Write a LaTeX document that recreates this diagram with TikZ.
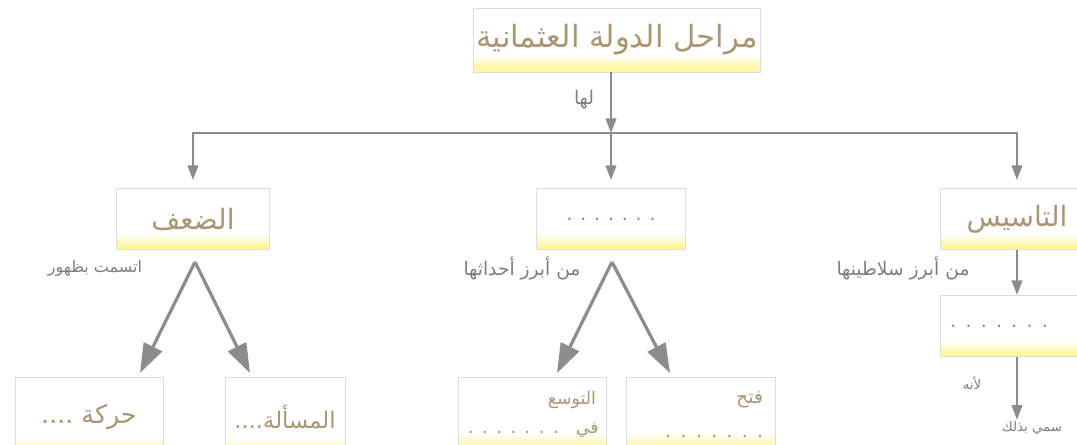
\documentclass[tikz,border=0pt]{standalone}
\usepackage{fontspec}
\newfontfamily\arabicfont[Script=Arabic]{DejaVu Sans}
\TeXXeTstate=1
\usetikzlibrary{arrows.meta}

\definecolor{txtbrown}{RGB}{170,150,115}
\definecolor{arrgray}{RGB}{140,140,140}
\definecolor{edgegray}{RGB}{220,220,220}
\definecolor{paleyellow}{RGB}{255,246,160}
\definecolor{lblgray}{RGB}{125,125,125}
\definecolor{dotolive}{RGB}{150,135,90}
\pgfdeclareverticalshading{boxfade}{100bp}{color(0bp)=(paleyellow); color(28bp)=(paleyellow); color(38bp)=(white); color(100bp)=(white)}

\begin{document}
\begin{tikzpicture}[x=0.75pt,y=-0.75pt,
    stagebox/.style={draw=edgegray, line width=0.5pt, shading=boxfade, text=txtbrown, inner sep=2pt,
      font=\arabicfont\fontsize{21}{24}\selectfont},
    dotsbox/.style={stagebox, text=dotolive, font=\arabicfont\fontsize{14}{16}\selectfont},
    lbl/.style={text=lblgray, inner sep=1pt, font=\arabicfont\fontsize{14}{16}\selectfont},
    arr/.style={draw=arrgray, line width=1.5pt, -{Triangle[length=11pt,width=8pt]}},
    fatarr/.style={draw=arrgray, line width=2.4pt, -{Triangle[length=22pt,width=15pt]}}]
  \useasboundingbox (0,0) rectangle (1077,444);

  % top box
  \node[stagebox, minimum width=212pt, minimum height=48pt, font=\arabicfont\fontsize{23}{26}\selectfont]
    (root) at (617,40) {\beginR مراحل الدولة العثمانية\endR};

  % stages
  \node[stagebox, minimum width=115pt, minimum height=46pt] (weak) at (193,219) {\beginR الضعف\endR};
  \node[dotsbox, minimum width=112pt, minimum height=46pt] (mid) at (611,219) {\beginR . . . . . . .\endR};
  \node[stagebox, minimum width=115pt, minimum height=46pt] (found) at (1017,219) {\beginR التاسيس\endR};

  % branching
  \coordinate (bar) at (611,133);
  \draw[arr] (root.south -| bar) -- (bar);
  \node[lbl] (lha) at (584,100) {\beginR لها\endR};
  \draw[arr, shorten >=6pt] (bar) -| (weak);
  \draw[arr, shorten >=6pt] (bar) -- (mid);
  \draw[arr, shorten >=6pt] (bar) -| (found);

  % weakness
  \node[lbl, font=\arabicfont\fontsize{12}{14}\selectfont] (weaklbl) at (95,268) {\beginR اتسمت بظهور\endR};
  \node[stagebox, minimum width=111pt, minimum height=60pt, anchor=north, font=\arabicfont\fontsize{19}{22}\selectfont]
    (haraka) at (89,377) {\beginR حركة ....\endR};
  \node[stagebox, minimum width=90pt, minimum height=60pt, anchor=north, font=\arabicfont\fontsize{17}{20}\selectfont]
    (masala) at (285,377) {\beginR المسألة....\endR};
  \coordinate (weakv) at (195,262);
  \coordinate (harakatip) at (140,373);
  \coordinate (masalatip) at (250,373);
  \draw[fatarr] (weakv) -- (harakatip);
  \draw[fatarr] (weakv) -- (masalatip);

  % middle stage
  \node[lbl] (midlbl) at (522,268) {\beginR من أبرز أحداثها\endR};
  \node[stagebox, minimum width=111pt, minimum height=56pt, anchor=north, text width=96pt, align=right,
    font=\arabicfont\fontsize{13}{22}\selectfont] (tawassu) at (532,377)
    {\mbox{\beginR التوسع\endR}\\ \mbox{\beginR في\quad . . . . . . .\endR}};
  \node[stagebox, minimum width=112pt, minimum height=56pt, anchor=north, text width=93pt, align=right,
    font=\arabicfont\fontsize{14}{26}\selectfont] (fath) at (701,377)
    {\mbox{\beginR فتح\endR}\\ \mbox{\beginR . . . . . . .\endR}};
  \coordinate (midv) at (612,262);
  \coordinate (tawassutip) at (557,373);
  \coordinate (fathtip) at (670,373);
  \draw[fatarr] (midv) -- (tawassutip);
  \draw[fatarr] (midv) -- (fathtip);

  % founding
  \node[lbl] (foundlbl) at (903,268) {\beginR من أبرز سلاطينها\endR};
  \node[dotsbox, minimum width=115pt, minimum height=46pt, text width=100pt, align=left]
    (sultan) at (1017,326) {\beginR . . . . . . .\endR};
  \draw[arr] (found) -- (sultan);
  \node[lbl, font=\arabicfont\fontsize{10}{12}\selectfont] (because) at (972,383) {\beginR لأنه\endR};
  \node[lbl, font=\arabicfont\fontsize{10}{12}\selectfont] (lastlbl) at (1032,428) {\beginR سمي بذلك\endR};
  \draw[arr] (sultan.south) -- (sultan.south |- lastlbl.north);
\end{tikzpicture}
\end{document}
